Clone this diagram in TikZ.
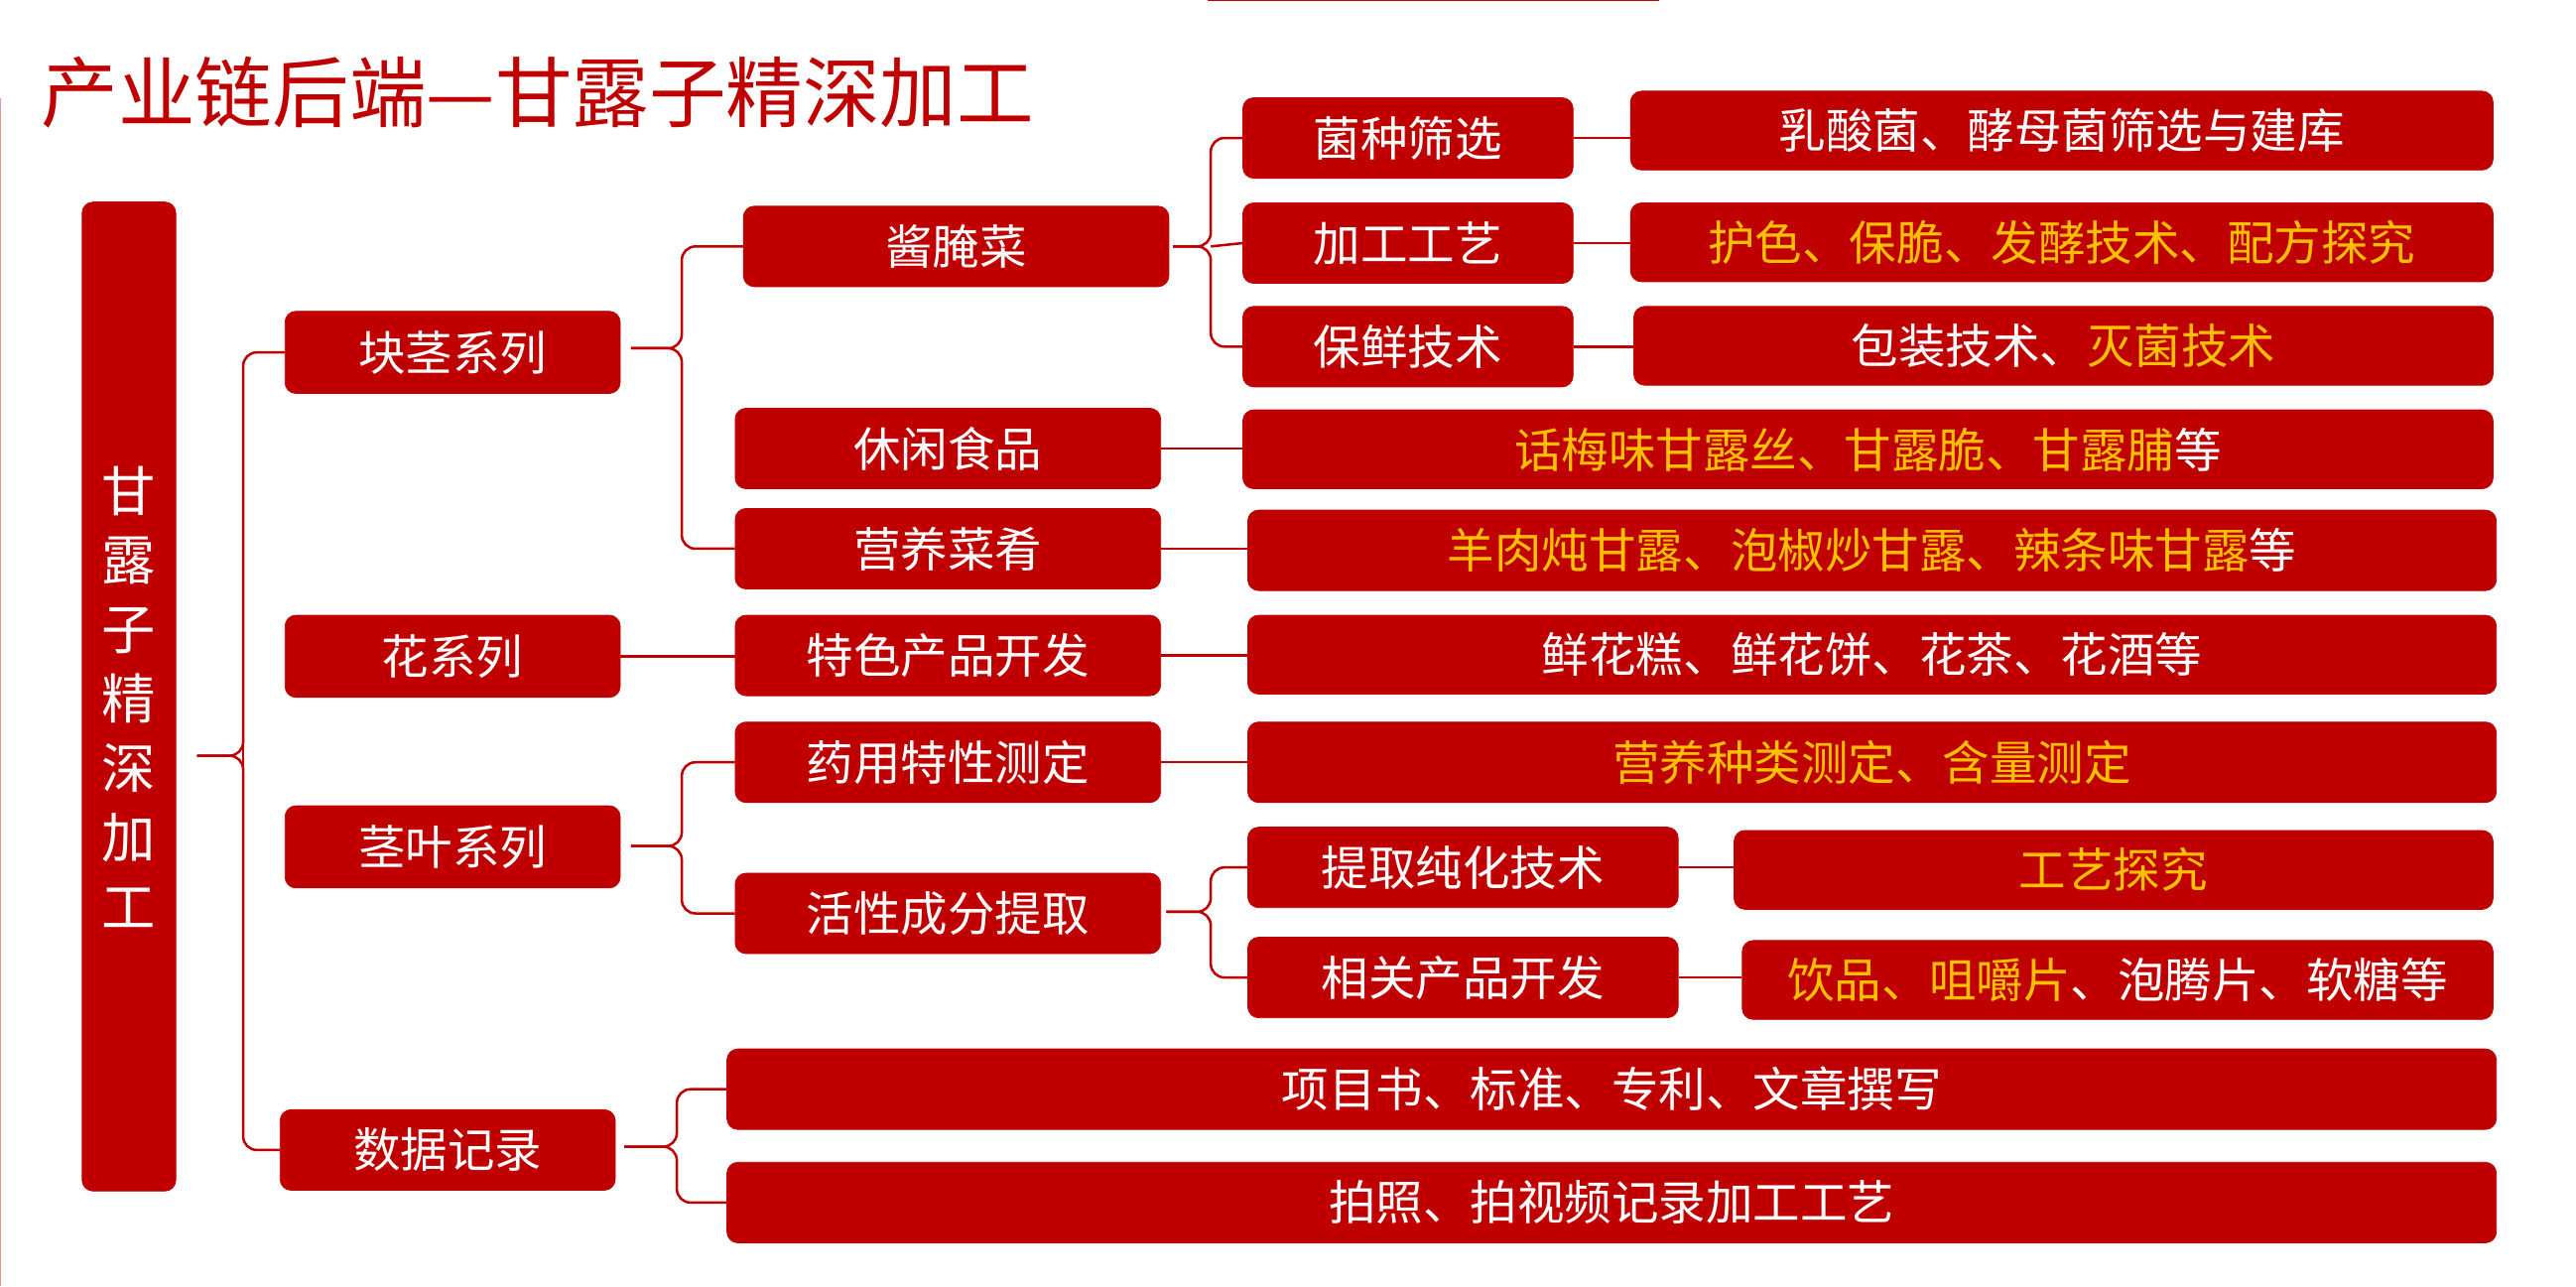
\documentclass[tikz,border=0pt]{standalone}
\usepackage{fontspec}
\setmainfont{Noto Sans CJK SC}
\definecolor{dr}{HTML}{C00000}
\definecolor{yl}{HTML}{FFC000}
\newcommand\yy[1]{\textcolor{yl}{#1}}
\begin{document}
\begin{tikzpicture}[x=0.3mm,y=-0.3mm,
  box/.style={fill=dr,draw=dr,rounded corners=2mm,text=white,font=\fontsize{24.5pt}{26pt}\selectfont,inner sep=0pt},
  ln/.style={draw=dr,line width=1.3pt,rounded corners=2.5mm},
  sl/.style={draw=dr,line width=1.3pt}]
\useasboundingbox (0,0) rectangle (1568,783);
\fill[white] (0,0) rectangle (1568,783);
\draw[dr,line width=1pt] (735,0) -- (1010,0);
\draw[dr!40,line width=0.6pt] (0.5,60) -- (0.5,783);
\node[anchor=west,text=dr,font=\fontsize{40pt}{44pt}\selectfont,inner sep=0pt] (title) at (25,56) {产业链后端—甘露子精深加工};
\newcommand\bx[6]{\node[box,minimum width=#4*0.3mm-0.3mm,minimum height=#5*0.3mm-0.3mm] (#1) at ({(#2+#2+#4)/2},{(#3+#3+#5)/2}) {#6};}
% root
\node[box,minimum width=57*0.3mm,minimum height=602*0.3mm,align=center,font=\fontsize{28pt}{36pt}\selectfont] (root) at (78.5,424) {甘\\露\\子\\精\\深\\加\\工};
% level1
\bx{k}{173}{189}{205}{51}{块茎系列}
\bx{h}{173}{374}{205}{51}{花系列}
\bx{j}{173}{490}{205}{51}{茎叶系列}
\bx{s}{170}{675}{205}{50}{数据记录}
% level2
\bx{jy}{452}{125}{260}{50}{酱腌菜}
\bx{xx}{447}{248}{260}{50}{休闲食品}
\bx{yy2}{447}{309}{260}{50}{营养菜肴}
\bx{ts}{447}{374}{260}{50}{特色产品开发}
\bx{ty}{447}{439}{260}{50}{药用特性测定}
\bx{hx}{447}{531}{260}{50}{活性成分提取}
\bx{xm}{442}{638}{1078}{50}{项目书、标准、专利、文章撰写}
\bx{pz}{442}{707}{1078}{50}{拍照、拍视频记录加工工艺}
% level3
\bx{jz}{756}{59}{202}{50}{菌种筛选}
\bx{jg}{756}{123}{202}{50}{加工工艺}
\bx{bx3}{756}{186}{202}{50}{保鲜技术}
\bx{tq}{759}{503}{263}{50}{提取纯化技术}
\bx{xg}{759}{570}{263}{50}{相关产品开发}
% level4
\bx{a1}{992}{55}{526}{49}{乳酸菌、酵母菌筛选与建库}
\bx{a2}{992}{123}{526}{49}{\yy{护色、保脆、发酵技术、配方探究}}
\bx{a3}{994}{186}{524}{49}{包装技术、\yy{灭菌技术}}
\bx{a4}{756}{249}{762}{49}{\yy{话梅味甘露丝、甘露脆、甘露脯}等}
\bx{a5}{759}{310}{761}{50}{\yy{羊肉炖甘露、泡椒炒甘露、辣条味甘露}等}
\bx{a6}{759}{374}{761}{49}{鲜花糕、鲜花饼、花茶、花酒等}
\bx{a7}{759}{439}{761}{50}{\yy{营养种类测定、含量测定}}
\bx{a8}{1055}{505}{463}{49}{\yy{工艺探究}}
\bx{a9}{1060}{572}{458}{49}{\yy{饮品、咀嚼片}、泡腾片、软糖等}
% braces
\coordinate (t0) at (120,460);
\draw[ln] (t0) -- (148,460) |- (k.west);
\draw[ln] (t0) -- (148,460) |- (s.west);
\draw[sl] (148,460) -- (148,400) (148,460) -- (148,515);
\coordinate (t1) at (384,212);
\draw[ln] (t1) -- (415,212) |- (jy.west);
\draw[ln] (t1) -- (415,212) |- (yy2.west);
\coordinate (t2) at (714,150);
\draw[ln] (t2) -- (737,150) |- (jz.west);
\draw[ln] (t2) -- (737,150) |- (bx3.west);
\draw[sl] (737,150) -- (jg.west);
\coordinate (t3) at (384,515);
\draw[ln] (t3) -- (415,515) |- (ty.west);
\draw[ln] (t3) -- (415,515) |- (hx.west);
\coordinate (t4) at (710,555);
\draw[ln] (t4) -- (737,555) |- (tq.west);
\draw[ln] (t4) -- (737,555) |- (xg.west);
\coordinate (t5) at (380,698);
\draw[ln] (t5) -- (412,698) |- (xm.west);
\draw[ln] (t5) -- (412,698) |- (pz.west);
% straight connectors
\draw[sl] (h.east) -- (h.east -| ts.west);
\draw[sl] (xx.east) -- (xx.east -| a4.west);
\draw[sl] (yy2.east) -- (yy2.east -| a5.west);
\draw[sl] (ts.east) -- (ts.east -| a6.west);
\draw[sl] (ty.east) -- (ty.east -| a7.west);
\draw[sl] (jz.east) -- (jz.east -| a1.west);
\draw[sl] (jg.east) -- (jg.east -| a2.west);
\draw[sl] (bx3.east) -- (bx3.east -| a3.west);
\draw[sl] (tq.east) -- (tq.east -| a8.west);
\draw[sl] (xg.east) -- (xg.east -| a9.west);
\end{tikzpicture}
\end{document}
